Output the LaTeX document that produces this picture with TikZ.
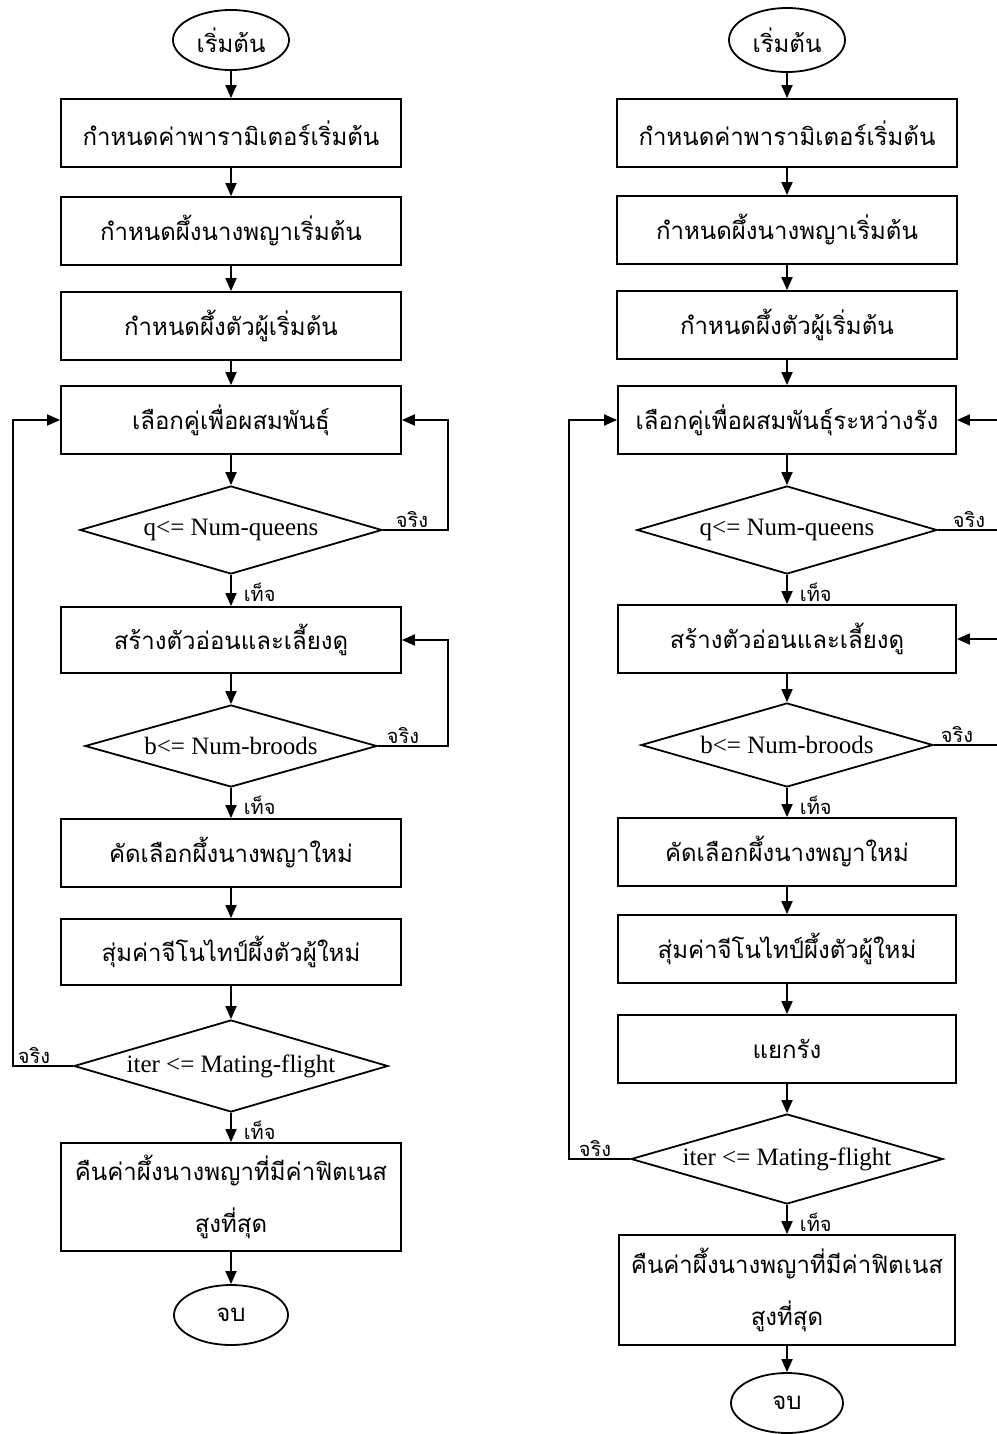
\documentclass[tikz,border=0pt]{standalone}
\usepackage{fontspec}
\setmainfont{Liberation Serif}
\newfontfamily\thaifont[Script=Thai]{Loma}
\usetikzlibrary{shapes.geometric,arrows.meta}

\begin{document}
\begin{tikzpicture}[x=0.5pt,y=-0.5pt,line width=0.9pt,
    box/.style={draw,rectangle,minimum width=170pt,minimum height=34pt,inner sep=2pt,align=center,font=\thaifont\fontsize{12}{26}\selectfont},
    term/.style={draw,ellipse,minimum width=58pt,minimum height=30pt,inner sep=0pt,font=\thaifont\fontsize{12}{14}\selectfont},
    cond/.style={draw,diamond,aspect=3.4,inner sep=1pt,font=\fontsize{12.5}{15}\selectfont},
    arr/.style={-{Triangle[length=6.5pt,width=5.5pt]}},
    lbl/.style={font=\thaifont\fontsize{10}{11}\selectfont,inner sep=1pt}]
    \useasboundingbox (0,0) rectangle (996,1434);

    \node[term] (startL) at (231,40) {เริ่มต้น};
    \node[box] (parL) at (231,133) {กำหนดค่าพารามิเตอร์เริ่มต้น};
    \node[box] (queenL) at (231,231) {กำหนดผึ้งนางพญาเริ่มต้น};
    \node[box] (droneL) at (231,326) {กำหนดผึ้งตัวผู้เริ่มต้น};
    \node[box] (mateL) at (231,420) {เลือกคู่เพื่อผสมพันธุ์};
    \node[cond,minimum width=151pt,minimum height=44pt] (qL) at (231,530) {q<= Num-queens};
    \node[box,minimum height=33pt] (broodL) at (231,640) {สร้างตัวอ่อนและเลี้ยงดู};
    \node[cond,minimum width=146pt,minimum height=41pt] (bL) at (231,746) {b<= Num-broods};
    \node[box] (selL) at (231,853) {คัดเลือกผึ้งนางพญาใหม่};
    \node[box,minimum height=33pt] (genL) at (231,952) {สุ่มค่าจีโนไทป์ผึ้งตัวผู้ใหม่};
    \node[cond,minimum width=157pt,minimum height=46pt] (iterL) at (231,1066) {iter <= Mating-flight};
    \node[box,minimum height=54pt] (retL) at (231,1197) {คืนค่าผึ้งนางพญาที่มีค่าฟิตเนส\\สูงที่สุด};
    \node[term,minimum width=57pt] (endL) at (231,1315) {จบ};

    \node[term,minimum height=32pt] (startR) at (787,40) {เริ่มต้น};
    \node[box] (parR) at (787,133) {กำหนดค่าพารามิเตอร์เริ่มต้น};
    \node[box] (queenR) at (787,230) {กำหนดผึ้งนางพญาเริ่มต้น};
    \node[box] (droneR) at (787,325) {กำหนดผึ้งตัวผู้เริ่มต้น};
    \node[box,minimum width=169pt] (mateR) at (787,420) {เลือกคู่เพื่อผสมพันธุ์ระหว่างรัง};
    \node[cond,minimum width=150pt,minimum height=44pt] (qR) at (787,530) {q<= Num-queens};
    \node[box,minimum width=169pt] (broodR) at (787,639) {สร้างตัวอ่อนและเลี้ยงดู};
    \node[cond,minimum width=146pt,minimum height=42pt] (bR) at (787,745) {b<= Num-broods};
    \node[box,minimum width=169pt] (selR) at (787,852) {คัดเลือกผึ้งนางพญาใหม่};
    \node[box,minimum width=169pt] (genR) at (787,949) {สุ่มค่าจีโนไทป์ผึ้งตัวผู้ใหม่};
    \node[box,minimum width=169pt] (splitR) at (787,1049) {แยกรัง};
    \node[cond,minimum width=156pt,minimum height=45pt] (iterR) at (787,1159) {iter <= Mating-flight};
    \node[box,minimum width=168pt,minimum height=55pt] (retR) at (787,1290) {คืนค่าผึ้งนางพญาที่มีค่าฟิตเนส\\สูงที่สุด};
    \node[term,minimum width=56pt] (endR) at (787,1403) {จบ};

    \coordinate (loopL) at (448,0);
    \coordinate (backL) at (13,0);
    \coordinate (loopR) at (1010,0);
    \coordinate (backR) at (569,0);

    \draw[arr] (startL) -- (parL);
    \draw[arr] (parL) -- (queenL);
    \draw[arr] (queenL) -- (droneL);
    \draw[arr] (droneL) -- (mateL);
    \draw[arr] (mateL) -- (qL);
    \draw[arr] (qL) -- (broodL);
    \draw[arr] (broodL) -- (bL);
    \draw[arr] (bL) -- (selL);
    \draw[arr] (selL) -- (genL);
    \draw[arr] (genL) -- (iterL);
    \draw[arr] (iterL) -- (retL);
    \draw[arr] (retL) -- (endL);
    \draw[arr] (qL.east) -- (qL.east -| loopL) |- (mateL.east);
    \draw[arr] (bL.east) -- (bL.east -| loopL) |- (broodL.east);
    \draw[arr] (iterL.west) -- (iterL.west -| backL) |- (mateL.west);

    \draw[arr] (startR) -- (parR);
    \draw[arr] (parR) -- (queenR);
    \draw[arr] (queenR) -- (droneR);
    \draw[arr] (droneR) -- (mateR);
    \draw[arr] (mateR) -- (qR);
    \draw[arr] (qR) -- (broodR);
    \draw[arr] (broodR) -- (bR);
    \draw[arr] (bR) -- (selR);
    \draw[arr] (selR) -- (genR);
    \draw[arr] (genR) -- (splitR);
    \draw[arr] (splitR) -- (iterR);
    \draw[arr] (iterR) -- (retR);
    \draw[arr] (retR) -- (endR);
    \draw[arr] (qR.east) -- (qR.east -| loopR) |- (mateR.east);
    \draw[arr] (bR.east) -- (bR.east -| loopR) |- (broodR.east);
    \draw[arr] (iterR.west) -- (iterR.west -| backR) |- (mateR.west);

    \node[lbl,anchor=south west] (tqL) at ([xshift=5pt]qL.east) {จริง};
    \node[lbl,anchor=south west] (tbL) at ([xshift=3pt]bL.east) {จริง};
    \node[lbl,anchor=south east] (tiL) at ([xshift=-10pt]iterL.west) {จริง};
    \node[lbl,anchor=west] (fqL) at ([xshift=5pt,yshift=-8.5pt]qL.south) {เท็จ};
    \node[lbl,anchor=west] (fbL) at ([xshift=5pt,yshift=-8.5pt]bL.south) {เท็จ};
    \node[lbl,anchor=west] (fiL) at ([xshift=5pt,yshift=-8.5pt]iterL.south) {เท็จ};
    \node[lbl,anchor=south west] (tqR) at ([xshift=6pt]qR.east) {จริง};
    \node[lbl,anchor=south west] (tbR) at ([xshift=2pt]bR.east) {จริง};
    \node[lbl,anchor=south east] (tiR) at ([xshift=-8pt]iterR.west) {จริง};
    \node[lbl,anchor=west] (fqR) at ([xshift=5pt,yshift=-8.5pt]qR.south) {เท็จ};
    \node[lbl,anchor=west] (fbR) at ([xshift=5pt,yshift=-8.5pt]bR.south) {เท็จ};
    \node[lbl,anchor=west] (fiR) at ([xshift=5pt,yshift=-8.5pt]iterR.south) {เท็จ};
\end{tikzpicture}
\end{document}
